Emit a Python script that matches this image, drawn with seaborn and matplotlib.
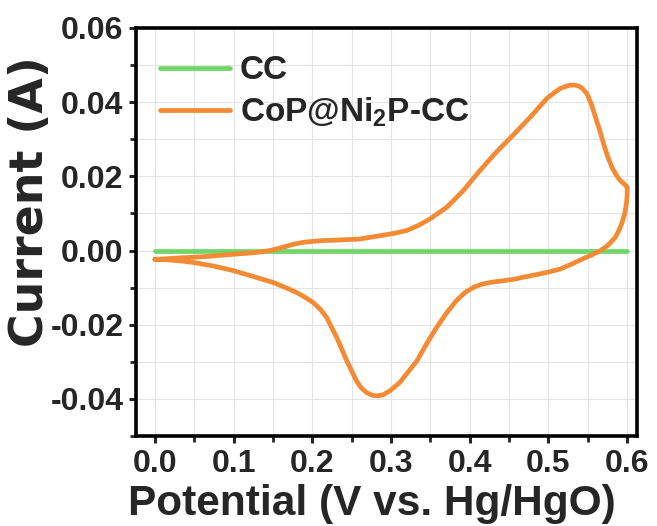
import numpy as np
import pandas as pd
import matplotlib
matplotlib.use("Agg")
import matplotlib.pyplot as plt
import seaborn as sns
from matplotlib.ticker import MultipleLocator

# ---------------- data ----------------
cc_v = [0.0, 0.1, 0.2, 0.3, 0.4, 0.5, 0.6]
cc_i = [0.0, 0.0, 0.0, 0.0, 0.0, 0.0, 0.0]

# anodic (forward) scan
cop_v_fwd = [0.000, 0.030, 0.066, 0.100, 0.125, 0.146, 0.163, 0.176, 0.188, 0.201,
             0.215, 0.230, 0.260, 0.286, 0.303, 0.320, 0.335, 0.350, 0.371, 0.392,
             0.413, 0.434, 0.455, 0.477, 0.498, 0.507, 0.515, 0.5215, 0.5275, 0.533,
             0.538, 0.543, 0.549, 0.555, 0.561, 0.566, 0.570, 0.575, 0.5805, 0.586,
             0.591, 0.596, 0.600]
cop_i_fwd = [-0.0024, -0.0020, -0.0016, -0.0010, -0.0006, 0.0000, 0.0009, 0.0017, 0.0022, 0.0025,
             0.0027, 0.0028, 0.0031, 0.0040, 0.0046, 0.0054, 0.0068, 0.0086, 0.0117, 0.0162,
             0.0216, 0.0266, 0.0311, 0.0360, 0.0410, 0.0425, 0.0437, 0.0442, 0.0446, 0.0446,
             0.0444, 0.0437, 0.0423, 0.0392, 0.0351, 0.0318, 0.0288, 0.0255, 0.0225, 0.0204,
             0.0189, 0.0180, 0.0171]
# cathodic (reverse) scan
cop_v_rev = [0.600, 0.600, 0.599, 0.597, 0.593, 0.589, 0.585, 0.580, 0.575, 0.566,
             0.555, 0.544, 0.530, 0.515, 0.500, 0.489, 0.470, 0.455, 0.440, 0.426,
             0.415, 0.405, 0.394, 0.383, 0.370, 0.358, 0.345, 0.333, 0.320, 0.311,
             0.2987, 0.290, 0.282, 0.276, 0.269, 0.262, 0.256, 0.2437, 0.231, 0.224,
             0.218, 0.210, 0.201, 0.190, 0.180, 0.165, 0.150, 0.125, 0.0996, 0.075,
             0.0487, 0.032, 0.016, 0.000]
cop_i_rev = [0.0171, 0.0150, 0.0126, 0.0100, 0.0072, 0.0052, 0.0036, 0.0024, 0.0013, 0.0000,
             -0.0012, -0.0022, -0.0036, -0.0050, -0.0058, -0.0063, -0.0071, -0.0078, -0.0082, -0.0086,
             -0.0091, -0.0099, -0.0113, -0.0135, -0.0170, -0.0207, -0.0252, -0.0297, -0.0332, -0.0356,
             -0.0378, -0.0389, -0.0392, -0.0390, -0.0383, -0.0370, -0.0351, -0.0297, -0.0234, -0.0205,
             -0.0180, -0.0158, -0.0140, -0.0125, -0.0113, -0.0099, -0.0086, -0.0070, -0.0054, -0.0042,
             -0.0032, -0.0028, -0.0025, -0.0023]

labels = ["CC", "CoP@Ni$_\\mathregular{2}$P-CC"]
colors = ["#70d66a", "#f58a35"]
x_ticks = [0.0, 0.1, 0.2, 0.3, 0.4, 0.5, 0.6]
y_ticks = [-0.04, -0.02, 0.00, 0.02, 0.04, 0.06]

# ---------------- style ----------------
sns.set_style("white")
plt.rcParams["font.family"] = ["Liberation Sans", "DejaVu Sans"]
plt.rcParams["font.weight"] = "bold"
plt.rcParams["mathtext.fontset"] = "custom"
plt.rcParams["mathtext.rm"] = "Liberation Sans:bold"
plt.rcParams["mathtext.bf"] = "Liberation Sans:bold"
plt.rcParams["mathtext.default"] = "rm"

fig = plt.figure(figsize=(6.57, 5.26), dpi=100)
ax = fig.add_axes([136/657, 1-436/526, (637-136)/657, (436-28)/526])

cc_df = pd.DataFrame({"V": cc_v, "I": cc_i})
cop_df = pd.DataFrame({"V": cop_v_fwd + cop_v_rev, "I": cop_i_fwd + cop_i_rev})

sns.lineplot(data=cc_df, x="V", y="I", ax=ax, color=colors[0], lw=3.4,
             sort=False, estimator=None, label=labels[0])
sns.lineplot(data=cop_df, x="V", y="I", ax=ax, color=colors[1], lw=3.4,
             sort=False, estimator=None, label=labels[1])
for ln in ax.get_lines():
    ln.set_solid_joinstyle("round")
    ln.set_solid_capstyle("round")

ax.set_xlim(-0.024, 0.6125)
ax.set_ylim(-0.05, 0.06)
ax.set_xticks(x_ticks)
ax.set_xticklabels([f"{t:.1f}" for t in x_ticks])
ax.set_yticks(y_ticks)
ax.set_yticklabels([f"{t:.2f}" for t in y_ticks])
ax.xaxis.set_minor_locator(MultipleLocator(0.05))
ax.yaxis.set_minor_locator(MultipleLocator(0.01))

ax.grid(True, which="both", color="#e4e4e4", lw=0.8)
ax.set_axisbelow(True)

for s in ax.spines.values():
    s.set_linewidth(2.6)
    s.set_color("black")

ax.tick_params(axis="both", which="major", direction="out", length=5, width=2.2,
               labelsize=23, pad=4, bottom=True, left=True, top=False, right=False)
ax.tick_params(axis="both", which="minor", direction="out", length=4, width=2.0,
               bottom=True, left=True, top=False, right=False)
for lab in ax.get_xticklabels() + ax.get_yticklabels():
    lab.set_fontweight("bold")

ax.set_xlabel("Potential (V vs. Hg/HgO)", fontsize=30.5, fontweight="bold")
ax.set_ylabel("Current (A)", fontsize=33, fontweight="bold",
              family=["DejaVu Sans"])
ax.xaxis.set_label_coords(0.470, -0.118)
ax.yaxis.set_label_coords(-0.166, 0.574)

leg = ax.legend(loc="upper left", bbox_to_anchor=(0.048, 0.933), frameon=False,
                fontsize=24, handlelength=2.1, handletextpad=0.3,
                labelspacing=0.27, borderpad=0, borderaxespad=0)
for t in leg.get_texts():
    t.set_fontweight("bold")
for h in leg.get_lines():
    h.set_linewidth(3.4)

fig.savefig("out.png", dpi=100)
